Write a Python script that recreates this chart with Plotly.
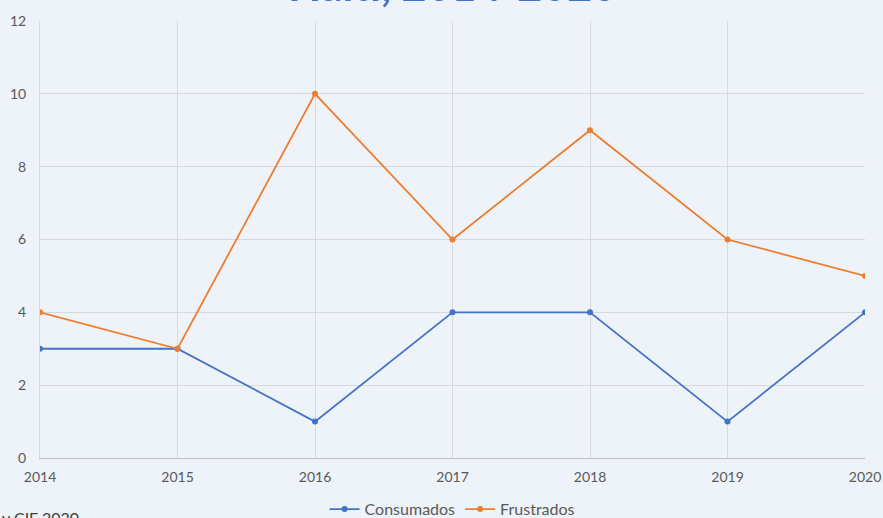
import plotly.graph_objects as go

years = [2014, 2015, 2016, 2017, 2018, 2019, 2020]
consumados = [3, 3, 1, 4, 4, 1, 4]
frustrados = [4, 3, 10, 6, 9, 6, 5]
y_ticks = [0, 2, 4, 6, 8, 10, 12]

BG = "#EEF3FA"
FONT = "Lato, Carlito, Open Sans, sans-serif"

fig = go.Figure()
fig.add_trace(go.Scatter(x=years, y=consumados, name="Consumados", mode="lines+markers",
                         line=dict(color="#4472C4", width=1.8),
                         marker=dict(size=6, color="#4472C4")))
fig.add_trace(go.Scatter(x=years, y=frustrados, name="Frustrados", mode="lines+markers",
                         line=dict(color="#ED7D31", width=1.8),
                         marker=dict(size=6, color="#ED7D31")))

fig.update_layout(
    width=883, height=518,
    paper_bgcolor=BG, plot_bgcolor=BG,
    margin=dict(l=40, r=18, t=21, b=60, autoexpand=False),
    font=dict(family=FONT, color="#595959", size=14),
    showlegend=True,
    legend=dict(orientation="h", x=0.512, xanchor="center", xref="container",
                y=0.017, yanchor="middle", yref="container",
                font=dict(size=16, color="#595959"), bgcolor="rgba(0,0,0,0)"),
    xaxis=dict(range=[2014, 2020], tickmode="array", tickvals=years,
               ticktext=[str(y) for y in years], automargin=False,
               showgrid=True, gridcolor="#D9D9D9", gridwidth=1,
               showline=True, linecolor="#BFBFBF", linewidth=1,
               zeroline=False, ticks="", ticklen=0, ticklabelstandoff=6,
               tickfont=dict(size=14, color="#595959")),
    yaxis=dict(range=[0, 12], tickmode="array", tickvals=y_ticks, automargin=False,
               showgrid=True, gridcolor="#D9D9D9", gridwidth=1,
               showline=True, linecolor="#D9D9D9", linewidth=1,
               zeroline=False, ticks="", ticklen=0, ticklabelstandoff=10,
               tickfont=dict(size=14, color="#595959")),
)

fig.add_annotation(text="<b>Haití, 2014-2020</b>", xref="paper", yref="paper",
                   x=0.5, y=1.02, xanchor="center", yanchor="bottom", showarrow=False,
                   font=dict(size=43, color="#4472C4", family=FONT))
fig.add_annotation(text="y CIF 2020", xref="paper", yref="paper",
                   x=-0.049, y=-0.110, xanchor="left", yanchor="top", showarrow=False,
                   font=dict(size=16, color="#404040", family=FONT))

fig.write_html("out.html", config={"displayModeBar": False},
               post_script="document.body.style.margin='0';")
